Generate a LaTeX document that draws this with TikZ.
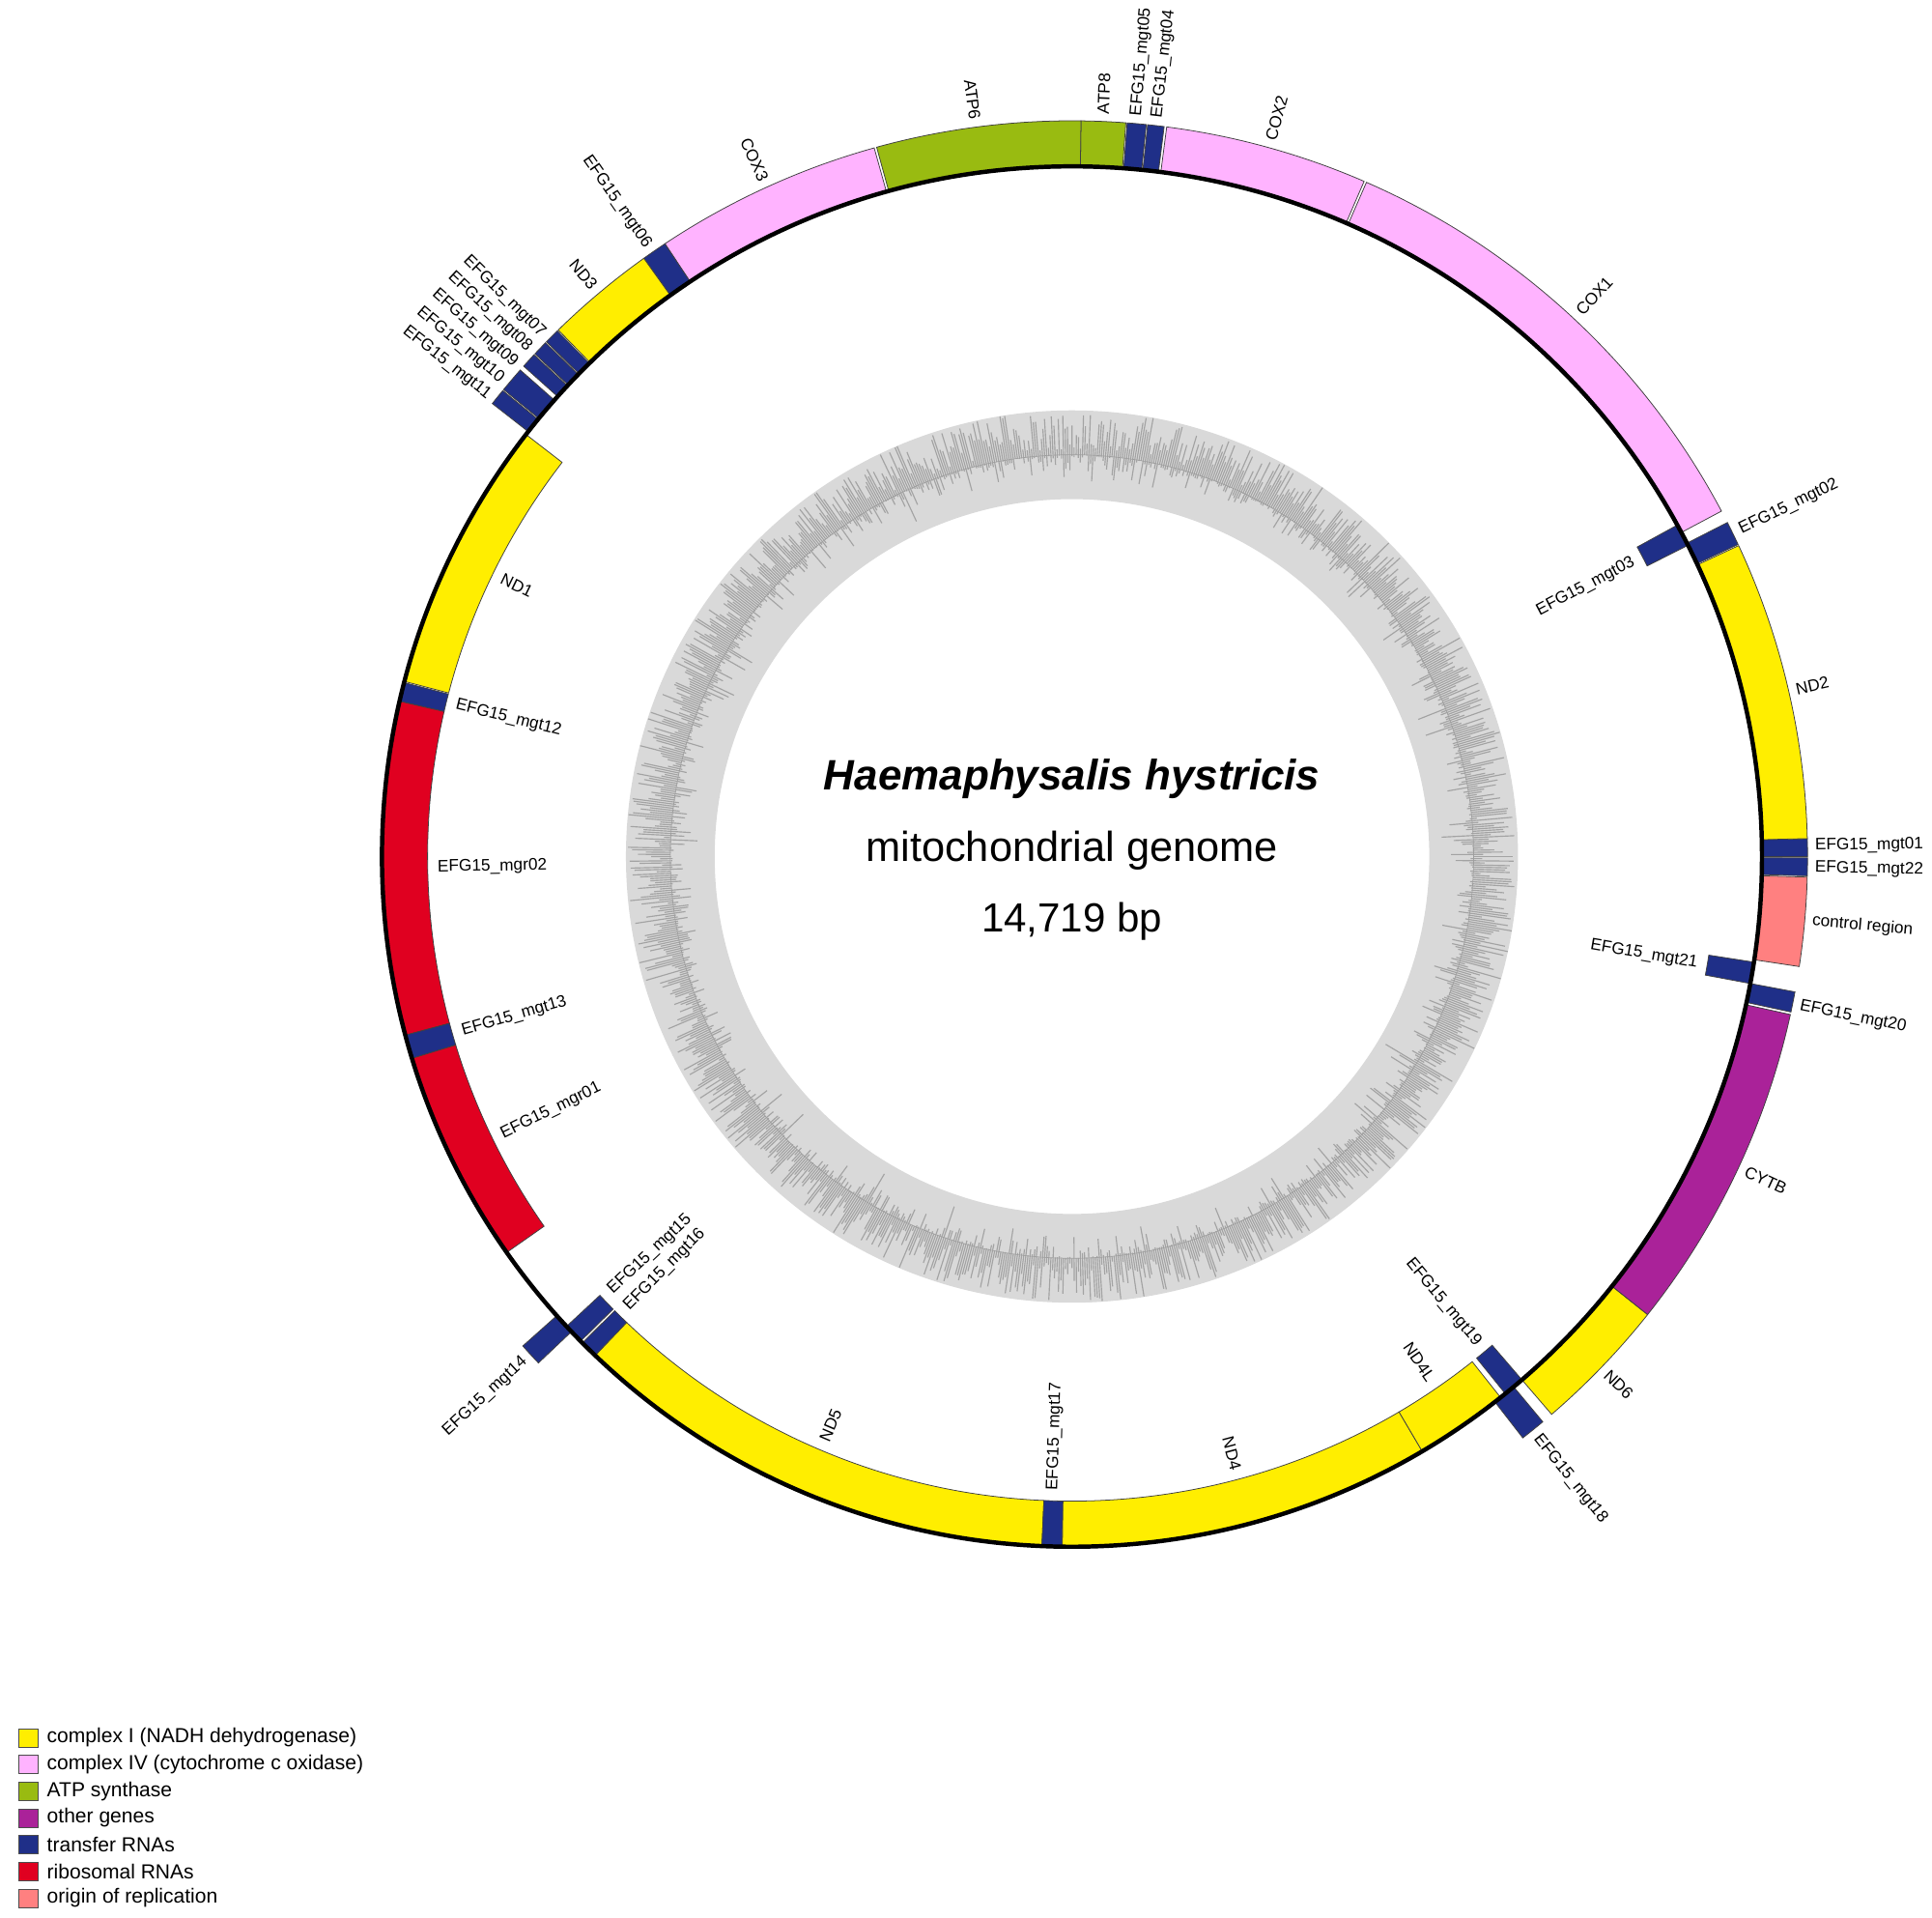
\documentclass[tikz,border=0pt]{standalone}
\usepackage{fontspec}
\setmainfont{Liberation Sans}
\definecolor{cyel}{HTML}{FFEE00}
\definecolor{cpink}{HTML}{FFB3FF}
\definecolor{cgrn}{HTML}{99BB11}
\definecolor{cpur}{HTML}{AA2299}
\definecolor{cnav}{HTML}{1F2F88}
\definecolor{cred}{HTML}{E00020}
\definecolor{csal}{HTML}{FF8080}
\newcommand\gseg[5]{\filldraw[fill=#5,draw=black!75,line width=0.6pt] ({90-(#1)}:#3) arc[start angle={90-(#1)},end angle={90-(#2)},radius=#3] -- ({90-(#2)}:#4) arc[start angle={90-(#2)},end angle={90-(#1)},radius=#4] -- cycle;}
\newcommand\og[3]{\gseg{#1}{#2}{560}{597}{#3}}
\newcommand\ig[3]{\gseg{#1}{#2}{523}{560}{#3}}
\newcommand\labR[4]{\node[lab,anchor=#3,rotate={90-(#1)}] at ({90-(#1)}:#2) {#4};}
\newcommand\labL[4]{\node[lab,anchor=#3,rotate={270-(#1)}] at ({90-(#1)}:#2) {#4};}
\begin{document}
\begin{tikzpicture}[x=1pt,y=1pt,lab/.style={font=\fontsize{13.5}{14}\selectfont,inner sep=0pt},
  legbox/.style={draw=black!70,line width=0.6pt,minimum size=15pt,inner sep=0pt},
  legtxt/.style={anchor=west,font=\fontsize{16.5}{17}\selectfont,inner sep=0pt}]
\useasboundingbox (0,0) rectangle (1568,1556);
\fill[white] (0,0) rectangle (1568,1556);
\begin{scope}[shift={(870,861)}]
% GC ring
\fill[black!15,even odd rule] (0,0) circle[radius=362] (0,0) circle[radius=290];
\pgfmathsetseed{7}
\foreach \i in {0,...,1199}{
  \pgfmathsetmacro\a{\i*0.3}
  \pgfmathsetmacro\lo{326+4+32*rnd}
  \pgfmathsetmacro\li{326-34*rnd*rnd*rnd}
  \draw[black!36,line width=0.9pt] (\a:\li) -- (\a:\lo);
}
\draw[black!38,line width=0.5pt] (0,0) circle[radius=326];
% outer genes
\og{23.6}{62}{cpink}
\og{7.4}{23.4}{cpink}
\og{5.9}{7.2}{cnav}
\og{4.3}{5.8}{cnav}
\og{0.7}{4.2}{cgrn}
\og{-15.4}{0.7}{cgrn}
\og{-33.6}{-15.6}{cpink}
\og{-35.6}{-33.6}{cnav}
\og{-44.3}{-35.6}{cyel}
\og{-45.6}{-44.4}{cnav}
\og{-46.9}{-45.7}{cnav}
\og{-48.2}{-47.0}{cnav}
\og{-50.6}{-48.6}{cnav}
\og{-52}{-50.7}{cnav}
\og{-133.5}{-131.7}{cnav}
\og{140.2}{142.2}{cnav}
\og{128.5}{139.3}{cyel}
\og{102.4}{128.5}{cpur}
\og{100.6}{102.2}{cnav}
\og{91.6}{98.6}{csal}
\og{90.1}{91.5}{cnav}
\og{88.6}{90}{cnav}
\og{65}{88.6}{cyel}
\og{63}{64.9}{cnav}
% inner genes
\ig{-75.3}{-52.3}{cyel}
\ig{-77}{-75.4}{cnav}
\ig{-105}{-77}{cred}
\ig{-107}{-105}{cnav}
\ig{-125}{-107}{cred}
\ig{-134.6}{-132.9}{cnav}
\ig{-136.3}{-134.8}{cnav}
\ig{-177.5}{-136.3}{cyel}
\ig{-179.2}{-177.5}{cnav}
\ig{149.5}{180.8}{cyel}
\ig{141.6}{149.5}{cyel}
\ig{139.3}{141.1}{cnav}
\ig{98.8}{100.6}{cnav}
\ig{61.3}{63.2}{cnav}
\draw[line width=3.5pt] (0,0) circle[radius=560];
% labels outer right
\labR{43}{603}{west}{COX1}
\labR{15.5}{603}{west}{COX2}
\labR{6.6}{603}{west}{EFG15\_mgt04}
\labR{5.0}{603}{west}{EFG15\_mgt05}
\labR{2.4}{603}{west}{ATP8}
\labR{141.3}{603}{west}{EFG15\_mgt18}
\labR{134}{603}{west}{ND6}
\labR{115}{603}{west}{CYTB}
\labR{101.6}{603}{west}{EFG15\_mgt20}
\labR{95}{603}{west}{control region}
\labR{90.9}{603}{west}{EFG15\_mgt22}
\labR{89.2}{603}{west}{EFG15\_mgt01}
\labR{77}{603}{west}{ND2}
\labR{64}{603}{west}{EFG15\_mgt02}
% outer left
\labL{-7.5}{603}{east}{ATP6}
\labL{-24.5}{603}{east}{COX3}
\labL{-34.8}{603}{east}{EFG15\_mgt06}
\labL{-40}{603}{east}{ND3}
\labL{-45.4}{603}{east}{EFG15\_mgt07}
\labL{-46.9}{603}{east}{EFG15\_mgt08}
\labL{-48.5}{603}{east}{EFG15\_mgt09}
\labL{-50.1}{603}{east}{EFG15\_mgt10}
\labL{-51.7}{603}{east}{EFG15\_mgt11}
\labL{-132.6}{603}{east}{EFG15\_mgt14}
% inner left
\labL{-64}{515}{west}{ND1}
\labL{-76.2}{515}{west}{EFG15\_mgt12}
\labL{-91}{515}{west}{EFG15\_mgr02}
\labL{-106}{515}{west}{EFG15\_mgt13}
\labL{-116}{515}{west}{EFG15\_mgr01}
\labL{-133.3}{515}{west}{EFG15\_mgt15}
\labL{-135.4}{515}{west}{EFG15\_mgt16}
\labL{-157}{515}{west}{ND5}
\labL{-178.3}{515}{west}{EFG15\_mgt17}
% inner right
\labR{165}{515}{east}{ND4}
\labR{145.5}{515}{east}{ND4L}
\labR{140.2}{515}{east}{EFG15\_mgt19}
\labR{99.7}{515}{east}{EFG15\_mgt21}
\labR{62.3}{515}{east}{EFG15\_mgt03}
% title
\node[font=\fontsize{34.5}{36}\selectfont\bfseries\itshape] (t1) at (0,63) {Haemaphysalis hystricis};
\node[font=\fontsize{34}{36}\selectfont] (t2) at (0,5) {mitochondrial genome};
\node[font=\fontsize{33}{36}\selectfont] (t3) at (0,-53) {14,719 bp};
\end{scope}
% legend
\foreach \c/\t [count=\k] in {cyel/complex I (NADH dehydrogenase),cpink/complex IV (cytochrome c oxidase),cgrn/ATP synthase,cpur/other genes,cnav/transfer RNAs,cred/ribosomal RNAs,csal/origin of replication}{
  \node[legbox,fill=\c] (lb\k) at (23,{1556-1410-(\k-1)*21.7}) {};
  \node[legtxt] (lt\k) at (38,{1556-1410-(\k-1)*21.7}) {\t};
}
\end{tikzpicture}
\end{document}
